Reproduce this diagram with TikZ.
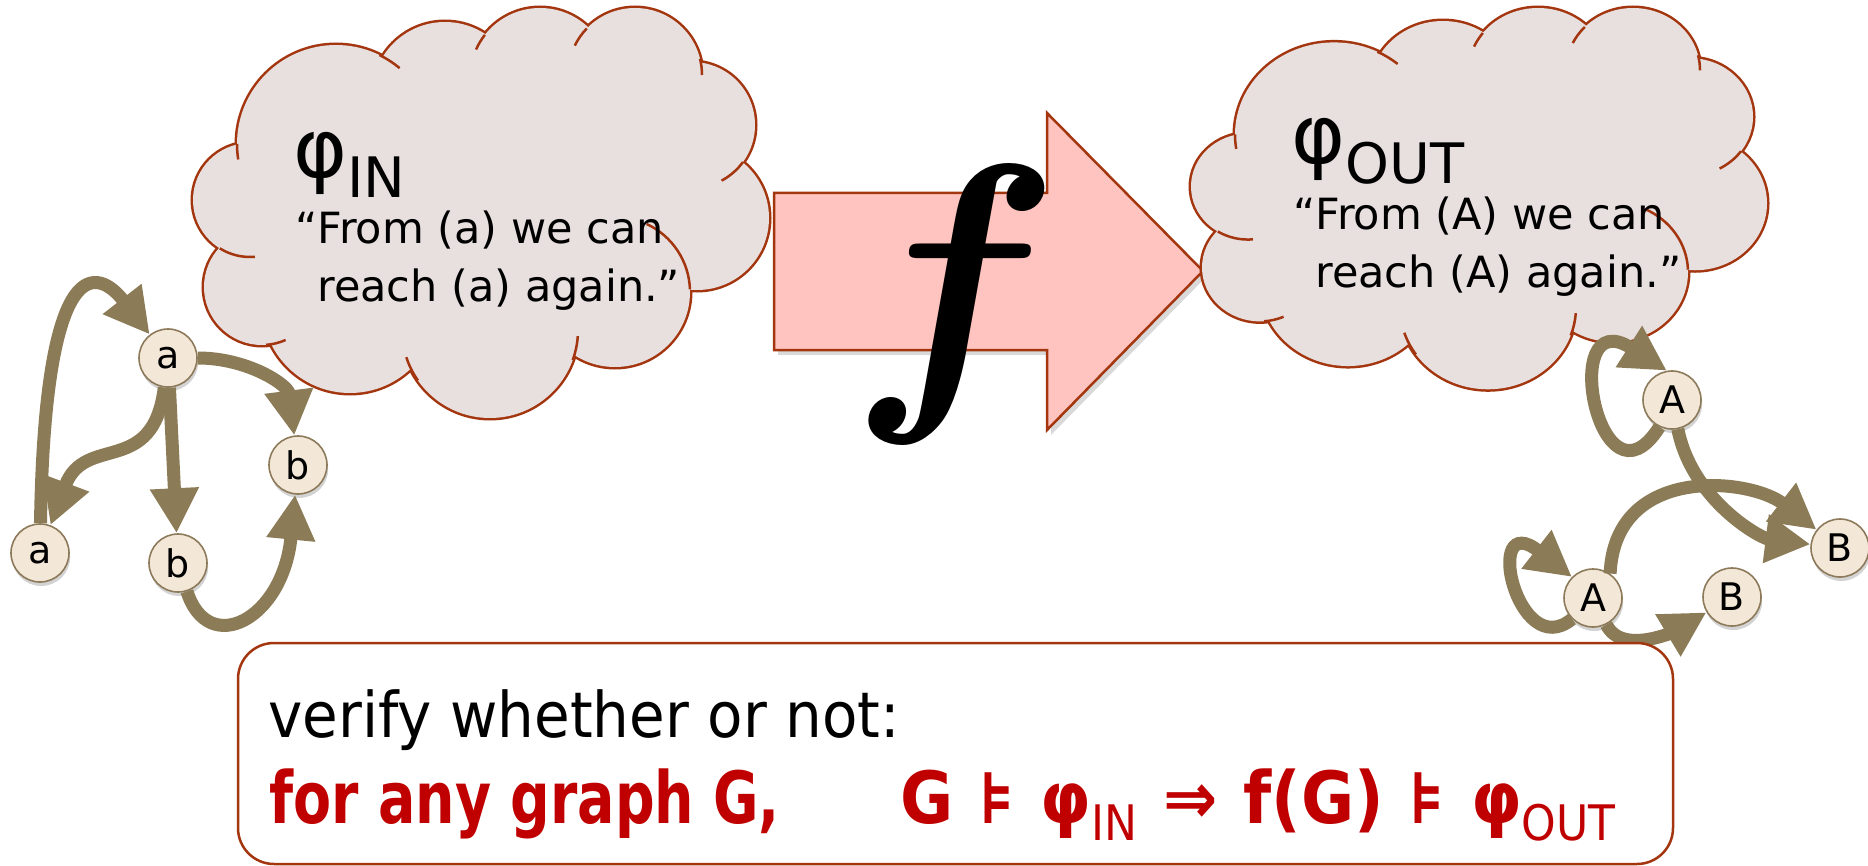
\documentclass[tikz,border=0pt]{standalone}
\usepackage{fontspec}
\setmainfont{DejaVu Sans}
\newfontfamily\askfont{DejaVu Sans}[FakeStretch=0.92]
\newfontfamily\claimfont{DejaVu Sans}[FakeStretch=0.77]
\newfontfamily\formulafont{DejaVu Sans}[FakeStretch=0.9]
\usepackage{graphicx}
\usepackage{tikz}
\usetikzlibrary{arrows.meta,shadows}
\definecolor{cloudfill}{HTML}{E8DFDF}
\definecolor{rim}{HTML}{A3360F}
\definecolor{pinkfill}{HTML}{FFC4BF}
\definecolor{olive}{HTML}{8B7B56}
\definecolor{vfill}{HTML}{F3E7D8}
\definecolor{vrim}{HTML}{8C7A5A}
\definecolor{claimred}{HTML}{C00000}

% phi with a lowered, smaller index
\newcommand\phisub[1]{φ\raisebox{-0.24em}{\scalebox{0.68}{\mdseries #1}}}
\newcommand\gap{\hspace{13pt}}
% puffs of the thought cloud: centre x/centre y/radius
\newcommand\puffs{60/192/57,146/136/99,255/87/73,350/70/70,445/67/67,
  502/117/63,507/210/72,425/284/75,300/322/88,160/297/88,72/279/58}

\tikzset{
  thought/.pic={
    \foreach \cx/\cy/\r in \puffs
      \draw[rim, line width=2.5pt] (\cx,\cy) circle (\r);
    \foreach \cx/\cy/\r in \puffs
      \fill[cloudfill] (\cx,\cy) circle (\r);
    \fill[cloudfill] (290,207) ellipse (230 and 130);
    % little inner hooks
    \foreach \cx/\cy/\r/\a/\b in {146/136/99/180/171,146/136/99/-64/-50,
        350/70/70/218/204,445/67/67/224/206,445/67/67/-14/0,502/117/63/36/62,
        425/284/75/-65/-2,300/322/88/4/20,300/322/88/145/162,72/279/58/66/86,
        60/192/57/85/122}
      \draw[rim, line width=1.25pt] (\cx,\cy) ++(\a:\r)
        arc[start angle=\a, end angle=\b, radius=\r];
  }
}

\begin{document}
\begin{tikzpicture}[x=0.5pt, y=-0.5pt,
  vertex/.style={circle, draw=vrim, line width=0.8pt, fill=vfill,
    minimum size=29pt, inner sep=0pt, font=\fontsize{19pt}{20pt}\selectfont,
    drop shadow={shadow xshift=0.6pt, shadow yshift=-2pt, opacity=0.35}},
  link/.style={draw=olive, line width=6.5pt,
    -{Triangle[length=22.5pt, width=23pt]}},
  qhead/.style={inner sep=0pt, font=\fontsize{41pt}{41pt}\selectfont},
  qtext/.style={inner sep=0pt, align=left,
    font=\fontsize{21.5pt}{28.5pt}\selectfont},
  bigarrow/.style={draw=rim, line width=1.25pt, fill=pinkfill,
    drop shadow={shadow xshift=2pt, shadow yshift=-2.5pt, opacity=0.3}},
  panel/.style={draw=rim, line width=1.25pt, fill=white, rounded corners=18pt}]

  \useasboundingbox (0,0) rectangle (1868,866);

  % the map f
  \draw[bigarrow] (774,193) -- (1047,193) -- (1047,113) -- (1203,271)
    -- (1047,430) -- (1047,350) -- (774,350) -- cycle;
  \node[inner sep=0pt] (fmap) at (955,304) {\scalebox{15.6}{\boldmath$f$}};

  % clouds
  \pic at (190,8) {thought};
  \pic[yscale=0.93] at (1188,8) {thought};
  \node[qhead, anchor=base west] (inhead) at (293,178) {\phisub{IN}};
  \node[qtext, anchor=base west] (inquote) at (317,301)
    {\llap{“}From (a) we can\\reach (a) again.”};
  \node[qhead, anchor=base west] (outhead) at (1291,164) {\phisub{OUT}};
  \node[qtext, anchor=base west] (outquote) at (1315,287)
    {\llap{“}From (A) we can\\reach (A) again.”};

  % input graph
  \node[vertex] (a1) at (168,358) {a};
  \node[vertex] (b1) at (298,465) {b};
  \node[vertex] (a2) at (40,553) {a};
  \node[vertex] (b2) at (178,563) {b};
  \draw[link] (a2) .. controls +(5,-305) and +(-70,-90) .. (a1);
  \draw[link] (a1) .. controls +(-15,120) and +(45,-120) .. (a2);
  \draw[link] (a1) -- (b2);
  \draw[link] (a1) .. controls +(80,0) and +(-10,-80) .. (b1);
  \draw[link] (b2) .. controls +(30,95) and +(-15,155) .. (b1);

  % output graph
  \node[vertex] (A1) at (1672,400) {A};
  \node[vertex] (B1) at (1840,548) {B};
  \node[vertex] (A2) at (1593,598) {A};
  \node[vertex] (B2) at (1732,597) {B};
  \draw[link] (A1.245) .. controls +(-60,94) and +(-110,-70) .. (A1.100);
  \draw[link] (A1) .. controls +(20,100) and +(-80,-10) .. (B1);
  \draw[link] (A2.55) .. controls +(5,-110) and +(-90,-70) .. (B1);
  \draw[link] (A2.225) .. controls +(-55,45) and +(-90,-70) .. (A2.135);
  \draw[link] (A2) .. controls +(30,60) and +(-50,30) .. (B2);

  % the question
  \draw[panel] (238,643) rectangle (1673,864);
  \node[inner sep=0pt, anchor=base west, font=\askfont\fontsize{31.5pt}{34pt}\selectfont]
    (ask) at (268,737) {verify whether or not:};
  \node[inner sep=0pt, anchor=base west, text=claimred,
    font=\claimfont\bfseries\fontsize{36pt}{40pt}\selectfont]
    (claim) at (269,823)
    {for any graph G,\hspace{60pt}{\formulafont\bfseries
      G\gap⊧\gap\phisub{IN}\gap⇒\gap f(G)\gap⊧\gap\phisub{OUT}}};
\end{tikzpicture}
\end{document}
